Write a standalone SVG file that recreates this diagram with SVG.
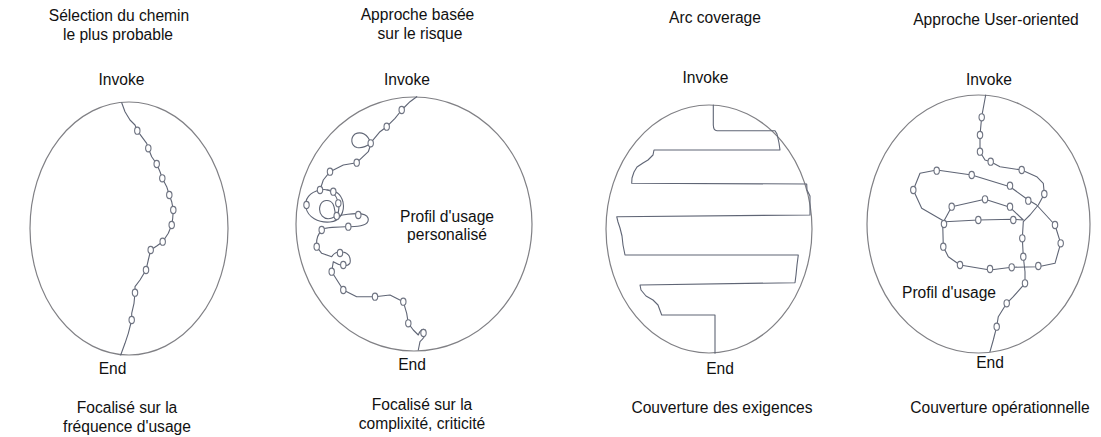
<svg xmlns="http://www.w3.org/2000/svg" xmlns:xlink="http://www.w3.org/1999/xlink" width="1101" height="437" viewBox="0 0 1101 437">
<style>
text{font-family:"Liberation Sans",Arial,sans-serif;font-size:15.6px;fill:#111;text-anchor:middle}
.frame{fill:none;stroke:#808085;stroke-width:1.2}
.path{fill:none;stroke:#5f6575;stroke-width:1.1;stroke-linejoin:round;stroke-linecap:round}
.dot{fill:#fff;stroke:#6f7482;stroke-width:1.1}
</style>
<defs>
<ellipse id="d" class="dot" rx="2.7" ry="3.6"/>
</defs>
<rect width="1101" height="437" fill="#fff"/>

<g id="panel1">
<text x="119" y="21">Sélection du chemin</text>
<text x="118" y="40">le plus probable</text>
<text x="121.5" y="85">Invoke</text>
<ellipse class="frame" cx="129" cy="228.5" rx="99" ry="126.5"/>
<path class="path" d="M121.7,102.7 L125,111.7 L130,120 L135,125 L137.3,130.7 L141.7,136.7 L146.7,143.3 L148.3,148.3 L151.7,156.7 L156.7,164 L160,171.7 L162.3,178.3 L166.7,186.7 L169.3,195 L171.7,201.7 L173.3,210 L172.7,218.3 L171.7,225 L168.3,233.3 L162.7,241.7 L156.7,246 L150.7,250 L148.3,260 L146,270 L140,280 L135,286.7 L135,292.7 L134,303.3 L131.7,313.3 L131.7,320 L128.3,333.3 L125,343.3 L120.7,355"/>
<use xlink:href="#d" x="137.3" y="130.7"/>
<use xlink:href="#d" x="148.3" y="148.3"/>
<use xlink:href="#d" x="156.7" y="164"/>
<use xlink:href="#d" x="162.3" y="178.3"/>
<use xlink:href="#d" x="169.3" y="195"/>
<use xlink:href="#d" x="173.3" y="210"/>
<use xlink:href="#d" x="171.7" y="225"/>
<use xlink:href="#d" x="162.7" y="241.7"/>
<use xlink:href="#d" x="150.7" y="250"/>
<use xlink:href="#d" x="146" y="270"/>
<use xlink:href="#d" x="135" y="292.7"/>
<use xlink:href="#d" x="131.7" y="320"/>
<text x="112.5" y="374">End</text>
<text x="127" y="413">Focalisé sur la</text>
<text x="127" y="432">fréquence d'usage</text>
</g>

<g id="panel2">
<text x="417.5" y="20">Approche basée</text>
<text x="420" y="39">sur le risque</text>
<text x="407" y="85">Invoke</text>
<ellipse class="frame" cx="414" cy="224" rx="118" ry="127"/>
<path class="path" d="M416.7,96.7 L410,101.7 L401.7,110 L395,118.3 L386.7,126.7 L380,131.7 L371.7,141.7 L368.3,151.7 L356.7,162.7 L343.3,165 L330,171.7 L323.3,180 L320,190 C328,188 336,192 338.3,203.3 C340,211 338,216 332,218 C324,221 318,214 320,206 C322,199 330,199 333,204 C336,210 334,214 336.7,216 C348,214 366,211 368,218 C370,225 360,227 348.3,226.7 C335,227 324,227 321.7,230 C317,235 316,240 316.7,246.7 L321.7,253.3 L331.7,256.7 C334,253 338,251 343,252 C349,253 351,258 350,263 C348,267 340,266 333.3,261.7 L331.7,271.7 L343.3,290 L356.7,296.7 L375,296.7 L390,295 L403.3,301.7 L406.7,313.3 L408.3,323.3 L413.3,330 L418.3,335 C420,330 423,328 425,330 C427,334 424,338 420,341.7 L418.3,350"/>
<path class="path" d="M370.7,143.3 C368,134 361,131 355,134 C350,138 351,146 357,147.5 C362,148.5 367,146 370.7,143.3"/>
<path class="path" d="M320,190 C310,192 304,199 306,208 C308,217 318,223 330,222 C340,221 345,212 343,202 C341,194 335,190 327,190"/>
<use xlink:href="#d" x="401.7" y="110"/>
<use xlink:href="#d" x="386.7" y="126.7"/>
<use xlink:href="#d" x="370.7" y="143.3"/>
<use xlink:href="#d" x="356.7" y="162.7"/>
<use xlink:href="#d" x="330" y="171.7"/>
<use xlink:href="#d" x="320" y="190"/>
<use xlink:href="#d" x="333.3" y="191.7"/>
<use xlink:href="#d" x="306.5" y="205"/>
<use xlink:href="#d" x="338.3" y="203.3"/>
<use xlink:href="#d" x="336.7" y="216"/>
<use xlink:href="#d" x="358.3" y="215"/>
<use xlink:href="#d" x="348.3" y="226.7"/>
<use xlink:href="#d" x="321.7" y="230"/>
<use xlink:href="#d" x="316.7" y="246.7"/>
<use xlink:href="#d" x="340" y="253"/>
<use xlink:href="#d" x="343.3" y="265"/>
<use xlink:href="#d" x="331.7" y="271.7"/>
<use xlink:href="#d" x="343.3" y="290"/>
<use xlink:href="#d" x="375" y="296.7"/>
<use xlink:href="#d" x="403.3" y="301.7"/>
<use xlink:href="#d" x="408.3" y="323.3"/>
<use xlink:href="#d" x="423.5" y="333"/>
<text x="447" y="222">Profil d'usage</text>
<text x="447" y="240">personalisé</text>
<text x="412" y="370">End</text>
<text x="422" y="410">Focalisé sur la</text>
<text x="422" y="429">complixité, criticité</text>
</g>

<g id="panel3">
<text x="715" y="23">Arc coverage</text>
<text x="705.5" y="83">Invoke</text>
<ellipse class="frame" cx="709" cy="229" rx="103" ry="124"/>
<path class="path" d="M713.3,105 L713.3,125 Q713.5,130.7 717,130.7 L775,130.7 L777,134 L779,143 L780,150 L654,150 L653,155 L648,160 L643,163 L637,167 L634,172 L632,178 L631.7,183.3 L806.7,184 L807,190 L810,196 L810,205 L810,215 L616.7,216.7 L618,222 L620,228 L622,236 L623,245 L625,255 L798.3,255 L797,265 L796,275 L795,282.7 L640,285 L641,290 L646,296 L653,300 L658,305 L661.7,315 L715,315 L715,353.3"/>
<text x="720" y="374">End</text>
<text x="722" y="413">Couverture des exigences</text>
</g>

<g id="panel4">
<text x="996" y="25">Approche User-oriented</text>
<text x="989" y="85">Invoke</text>
<ellipse class="frame" cx="978.5" cy="224" rx="111.5" ry="129"/>
<path class="path" d="M985.7,95 L981.7,116.7 L980,135 L980,151.7 L985,160 L990.7,161.7 L1000,166.7 L1021.7,170 L1036.7,176.7 L1043.3,183.3 L1044.3,194 L1038.3,205 L1030,215 L1023.3,221.7 L1022.3,238.3 L1023.3,256.7 L1025,271.7 L1025,283.3 L1013.3,296.7 L1006.7,303.3 L998.3,316.7 L996.7,326.7 L993.3,340 L990,351.7"/>
<path class="path" d="M1023.3,220 L1013.3,219.3 L978.3,220 L945,221.7 L921.7,208.3 L913.3,190 L920,173.3 L936.7,170 L971.7,175 L1010,186.7 L1028.3,200 L1036.7,205 L1055,225 L1060.7,243.3 L1055,263.3 L1038.3,266.7 L1011.7,267.3 L990,270 L960,265 L948.3,256.7 L943.3,246.7 L942.7,223.3 L951.7,206.7 L985,199.3 L1010,207.3 L1023.3,220"/>
<use xlink:href="#d" x="981.7" y="117.3"/>
<use xlink:href="#d" x="980" y="135"/>
<use xlink:href="#d" x="980" y="151.7"/>
<use xlink:href="#d" x="990.7" y="161.7"/>
<use xlink:href="#d" x="1021.7" y="170"/>
<use xlink:href="#d" x="1044.3" y="194"/>
<use xlink:href="#d" x="1022.3" y="238.3"/>
<use xlink:href="#d" x="1023.3" y="256.7"/>
<use xlink:href="#d" x="1025" y="283.3"/>
<use xlink:href="#d" x="1006.7" y="303.3"/>
<use xlink:href="#d" x="996.7" y="326.7"/>
<use xlink:href="#d" x="913.3" y="190"/>
<use xlink:href="#d" x="936.7" y="170.7"/>
<use xlink:href="#d" x="971.7" y="175"/>
<use xlink:href="#d" x="1010" y="185.7"/>
<use xlink:href="#d" x="1028.3" y="200.7"/>
<use xlink:href="#d" x="1055" y="225"/>
<use xlink:href="#d" x="1060.7" y="243.3"/>
<use xlink:href="#d" x="1038.3" y="266"/>
<use xlink:href="#d" x="1011.7" y="267.3"/>
<use xlink:href="#d" x="990" y="269"/>
<use xlink:href="#d" x="960" y="265"/>
<use xlink:href="#d" x="943.3" y="246.7"/>
<use xlink:href="#d" x="944" y="224"/>
<use xlink:href="#d" x="951.7" y="206.7"/>
<use xlink:href="#d" x="985" y="199.3"/>
<use xlink:href="#d" x="1010" y="206.7"/>
<use xlink:href="#d" x="978.3" y="220"/>
<use xlink:href="#d" x="1013.3" y="220"/>
<text x="949" y="298">Profil d'usage</text>
<text x="990" y="368">End</text>
<text x="1000" y="413">Couverture opérationnelle</text>
</g>
</svg>
